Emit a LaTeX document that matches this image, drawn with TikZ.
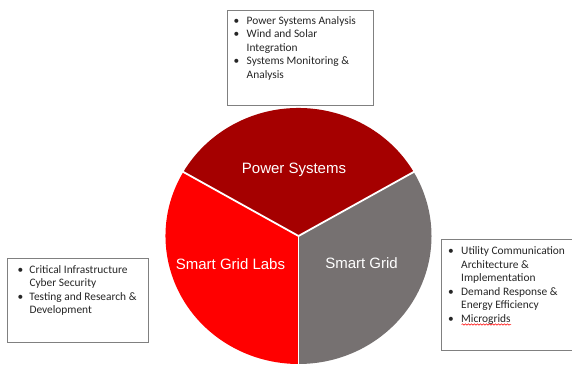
\documentclass[tikz,border=0pt]{standalone}
\usepackage{fontspec}
\newfontfamily\labelfont{Liberation Sans}
\newfontfamily\boxfont{Carlito}
\usetikzlibrary{decorations.pathmorphing}
\definecolor{darkredsec}{HTML}{A50000}
\definecolor{redsec}{HTML}{FF0000}
\definecolor{graysec}{HTML}{767171}
\definecolor{boxline}{HTML}{808080}
\tikzset{
  sectorlabel/.style={font=\labelfont\fontsize{15}{18}\selectfont, text=white, inner sep=0pt, anchor=base},
  infobox/.style={draw=boxline, line width=1pt, fill=white, anchor=north west, inner sep=0pt},
  boxtext/.style={font=\boxfont\fontsize{11.4}{13.5}\selectfont, text=black!85, anchor=north west, inner sep=0pt, align=left},
  divider/.style={white, line width=1.8pt},
}
\newcommand\bul{\textbullet}
\begin{document}
\begin{tikzpicture}[x=1pt,y=1pt]
\useasboundingbox (0,0) rectangle (572,366);
\coordinate (c) at (298.5,130);
% sectors
\fill[darkredsec] (c) -- ++(30:133pt and 128pt) arc[start angle=30,end angle=150,x radius=133pt,y radius=128pt] -- cycle;
\fill[redsec] (c) -- ++(150:133pt and 128pt) arc[start angle=150,end angle=270,x radius=133pt,y radius=128pt] -- cycle;
\fill[graysec] (c) -- ++(270:133pt and 128pt) arc[start angle=270,end angle=390,x radius=133pt,y radius=128pt] -- cycle;
\draw[divider] (c) -- ++(30:134pt and 129pt);
\draw[divider] (c) -- ++(150:134pt and 129pt);
\draw[divider] (c) -- ++(270:134pt and 129pt);
% labels
\node[sectorlabel] (ps) at (294,192.6) {Power Systems};
\node[sectorlabel] (sgl) at (230.5,96.6) {Smart Grid Labs};
\node[sectorlabel] (sg) at (361.5,97.6) {Smart Grid};
% boxes
\node[infobox, minimum width=146pt, minimum height=95pt] (topbox) at (227,356) {};
\node[infobox, minimum width=141pt, minimum height=84pt] (leftbox) at (7,108) {};
\node[infobox, minimum width=130.5pt, minimum height=111pt] (rightbox) at (441,127) {};
\node[boxtext] (toptext) at (233.5,351.5) {\begin{tabular}{@{}p{13pt}@{}l@{}}
\bul & Power Systems Analysis\\
\bul & Wind and Solar\\
 & Integration\\
\bul & Systems Monitoring \&\\
 & Analysis
\end{tabular}};
\node[boxtext] (lefttext) at (17.3,102.5) {\begin{tabular}{@{}p{12pt}@{}l@{}}
\bul & Critical Infrastructure\\
 & Cyber Security\\
\bul & Testing and Research \&\\
 & Development
\end{tabular}};
\node[boxtext] (righttext) at (448,120.8) {\begin{tabular}{@{}p{13pt}@{}l@{}}
\bul & Utility Communication\\
 & Architecture \&\\
 & Implementation\\
\bul & Demand Response \&\\
 & Energy Efficiency\\
\bul & Microgrids
\end{tabular}};
\draw[red, line width=0.5pt, decorate, decoration={snake, amplitude=0.7pt, segment length=3pt}] (461.5,41.5) -- (511,41.5);
\end{tikzpicture}
\end{document}
